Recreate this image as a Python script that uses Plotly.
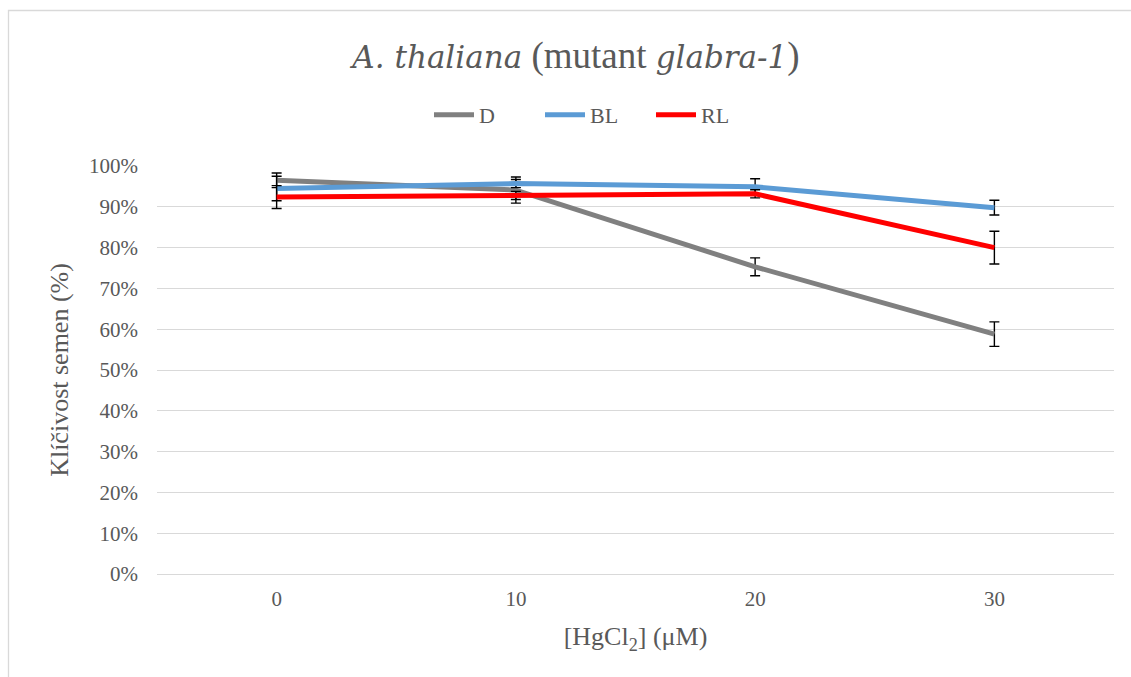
import plotly.graph_objects as go

concentrations = ["0", "10", "20", "30"]
d_values = [0.965, 0.941, 0.753, 0.588]
d_err = [0.018, 0.032, 0.022, 0.030]
bl_values = [0.945, 0.957, 0.949, 0.898]
bl_err = [0.030, 0.010, 0.020, 0.018]
rl_values = [0.924, 0.928, 0.932, 0.800]
rl_err = [0.028, 0.010, 0.010, 0.040]

series = [
    ("D", d_values, d_err, "#808080"),
    ("BL", bl_values, bl_err, "#5B9BD5"),
    ("RL", rl_values, rl_err, "#FF0000"),
]

font_family = "Liberation Serif, Times New Roman, DejaVu Serif, serif"
text_color = "#595959"

fig = go.Figure()
for name, vals, errs, color in series:
    fig.add_trace(go.Scatter(
        x=concentrations, y=vals, name=name, mode="lines",
        line=dict(color=color, width=5),
        error_y=dict(type="data", array=errs, visible=True,
                     color="black", thickness=1.4, width=5),
        hoverinfo="skip",
    ))

W, H = 1131, 677
L, R, T, B = 157, 17, 166, 103
pw, ph = W - L - R, H - T - B

def px_x(px):
    return (px - L) / pw

def px_y(py):
    return (H - B - py) / ph

ital = '<span style="font-family:DejaVu Serif;font-size:31px"><i>{}</i></span>'
title_text = ital.format("A. thaliana") + " (mutant " + ital.format("glabra-1") + ")"

fig.update_layout(
    width=W, height=H,
    margin=dict(l=L, r=R, t=T, b=B, autoexpand=False),
    paper_bgcolor="white", plot_bgcolor="white",
    font=dict(family=font_family, color=text_color, size=21),
    title=dict(text=title_text,
               x=px_x(576), xref="paper", xanchor="center", y=1 - 55 / H, yanchor="middle",
               font=dict(size=37, family=font_family, color=text_color)),
    showlegend=True,
    legend=dict(orientation="h", x=px_x(429), xanchor="left",
                y=px_y(115), yanchor="middle",
                font=dict(size=22, family=font_family, color=text_color),
                itemwidth=40, entrywidth=56, entrywidthmode="pixels",
                traceorder="normal"),
    xaxis=dict(type="category", range=[-0.5, 3.5],
               showgrid=False, showline=True, linecolor="#d9d9d9", linewidth=1.3,
               ticks="", tickfont=dict(size=21), ticklabelstandoff=6,
               title=dict(text="[HgCl<sub>2</sub>] (μM)", font=dict(size=26), standoff=16)),
    yaxis=dict(range=[0, 1.0001], dtick=0.1, tick0=0, tickformat=".0%",
               showgrid=True, gridcolor="#d9d9d9", gridwidth=1.3,
               zeroline=False, showline=False, ticks="",
               tickfont=dict(size=21), ticklabelstandoff=18,
               title=dict(text="Klíčivost semen (%)", font=dict(size=26), standoff=12)),
    hovermode=False,
)

fig.add_shape(type="rect", xref="paper", yref="paper",
              x0=px_x(8.5), x1=px_x(1145), y0=px_y(690), y1=px_y(10.5),
              line=dict(color="#d9d9d9", width=1.3), fillcolor="rgba(0,0,0,0)",
              layer="below")

fig.write_html("out.html")
